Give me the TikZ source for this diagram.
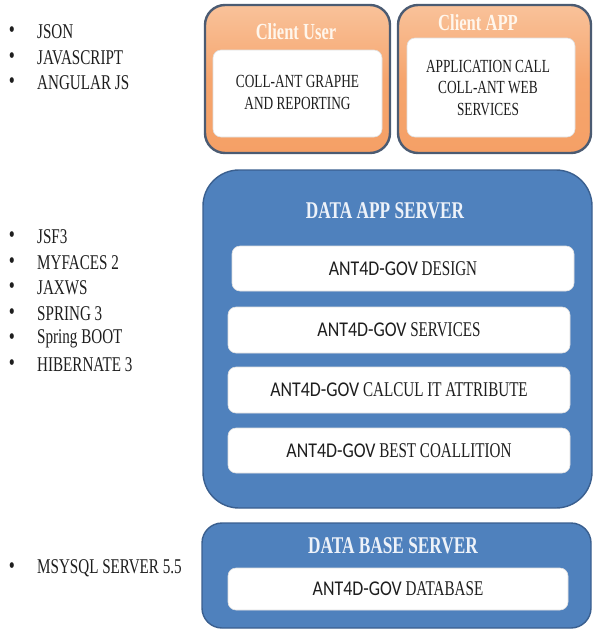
\documentclass[tikz,border=0pt]{standalone}
\usepackage{fontspec}
\setmainfont[FakeStretch=0.72]{Liberation Serif}
\newfontfamily\antfont[FakeStretch=0.85]{Carlito}
\definecolor{boxblue}{HTML}{4F81BD}
\definecolor{blueedge}{HTML}{3A5F8F}
\definecolor{slate}{HTML}{4B5B72}
\definecolor{orA}{HTML}{F9C29A}
\definecolor{orB}{HTML}{F5A066}
\definecolor{txt}{HTML}{1E1E1E}
\definecolor{titlelight}{HTML}{EDF2F9}
\definecolor{cream}{HTML}{FFF6EC}
\begin{document}
\begin{tikzpicture}[x=1pt,y=-1pt,
  clientbox/.style={draw=slate, line width=2.4pt, rounded corners=20pt, top color=orA, bottom color=orB, middle color=orB!85!orA, inner sep=0pt},
  serverbox/.style={draw=blueedge, line width=1.4pt, fill=boxblue, inner sep=0pt},
  whitebox/.style={draw=gray!25, line width=0.6pt, fill=white, rounded corners=8pt, inner sep=0pt, text=txt},
  listitem/.style={anchor=west, inner sep=0pt, text=txt, font=\fontsize{21}{24}\selectfont},
  bulletmark/.style={anchor=center, inner sep=0pt, text=txt, font=\fontsize{24}{26}\selectfont},
  clienttitle/.style={inner sep=0pt, text=cream, font=\bfseries\fontsize{23}{26}\selectfont},
  servertitle/.style={inner sep=0pt, text=titlelight, font=\bfseries\fontsize{24}{28}\selectfont},
  boxtext/.style={font=\fontsize{21}{24}\selectfont},
  clienttext/.style={inner sep=0pt, align=center, text=txt, font=\fontsize{18.5}{21.5}\selectfont}
]
\useasboundingbox (0,0) rectangle (593,630);

% left lists
\foreach \y/\t [count=\i] in {32/JSON, 58/JAVASCRIPT, 83/ANGULAR JS,
  237/JSF3, 263/MYFACES 2, 288/JAXWS, 314/SPRING 3, 339/Spring BOOT, 365/HIBERNATE 3,
  568/MSYSQL SERVER 5.5}{
  \node[bulletmark] (b\i) at (12,\y) {•};
  \node[listitem] (l\i) at (37,\y) {\t};
}

% client boxes
\node[clientbox, minimum width=185pt, minimum height=148pt] (cu) at (297.5,79) {};
\node[whitebox, minimum width=169pt, minimum height=87pt] (cui) at (297.5,93.5) {};
\node[clienttitle] (cut) at (296,32) {Client User};
\node[clienttext] (cutx) at (297.5,92.5) {COLL-ANT GRAPHE\\AND REPORTING};

\node[clientbox, minimum width=193pt, minimum height=148pt] (ca) at (494.5,79) {};
\node[whitebox, minimum width=168pt, minimum height=99pt] (cai) at (491,87.5) {};
\node[clienttitle] (cat) at (478,23) {Client APP};
\node[clienttext] (catx) at (488,88) {APPLICATION CALL\\COLL-ANT WEB\\SERVICES};

% data app server
\node[serverbox, rounded corners=36pt, minimum width=389pt, minimum height=338pt] (das) at (397.5,339) {};
\node[servertitle] (dast) at (385,211) {DATA APP SERVER};
\node[whitebox, boxtext, minimum width=342pt, minimum height=45pt] (d1) at (403,268.5) {{\antfont ANT4D-GOV} DESIGN};
\node[whitebox, boxtext, minimum width=342pt, minimum height=46pt] (d2) at (399,330) {{\antfont ANT4D-GOV} SERVICES};
\node[whitebox, boxtext, minimum width=342pt, minimum height=46pt] (d3) at (399,390) {{\antfont ANT4D-GOV} CALCUL IT ATTRIBUTE};
\node[whitebox, boxtext, minimum width=342pt, minimum height=45pt] (d4) at (399,450.5) {{\antfont ANT4D-GOV} BEST COALLITION};

% data base server
\node[serverbox, rounded corners=20pt, minimum width=389pt, minimum height=105pt] (dbs) at (396.5,575.5) {};
\node[servertitle] (dbst) at (393,546) {DATA BASE SERVER};
\node[whitebox, boxtext, minimum width=340pt, minimum height=42pt] (db) at (398,589) {{\antfont ANT4D-GOV} DATABASE};
\end{tikzpicture}
\end{document}
